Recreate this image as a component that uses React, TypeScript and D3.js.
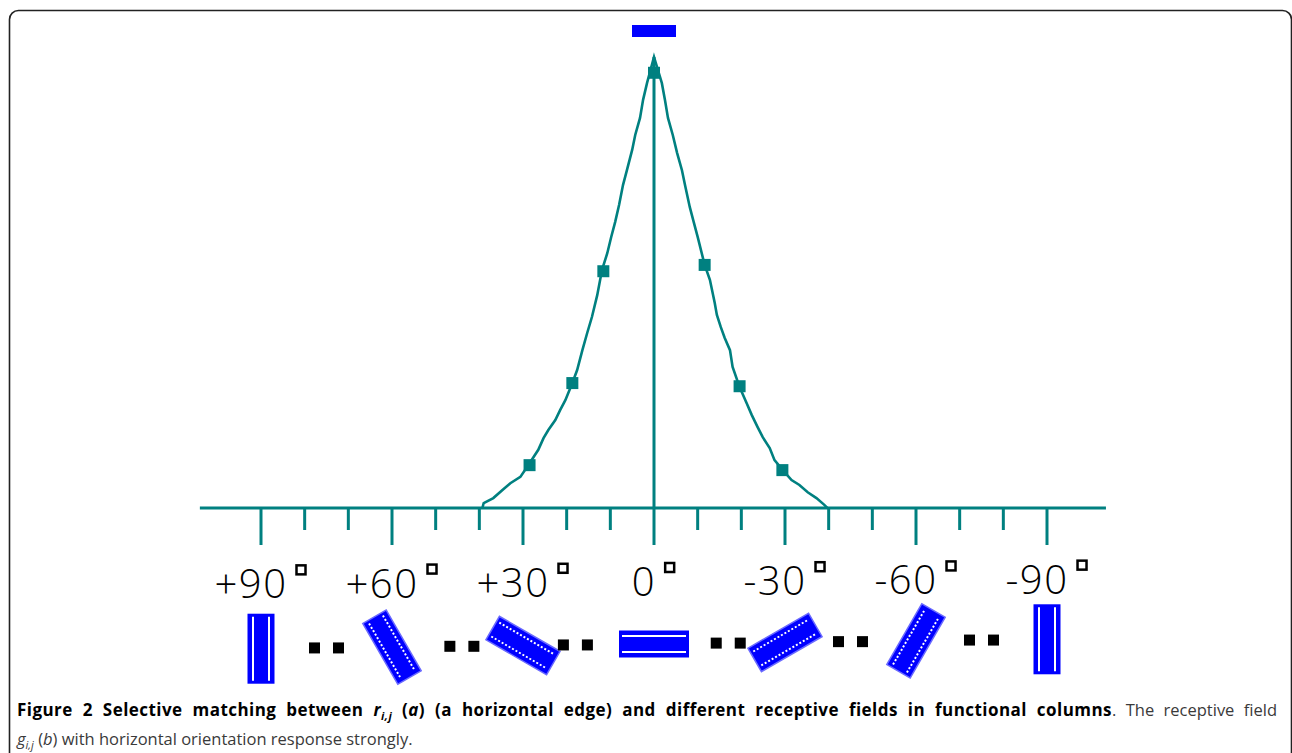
import React, { useRef, useEffect } from "react";
import * as d3 from "d3";

const width = 1292;
const height = 753;

// orientation tuning curve (degrees, relative response)
const curveAngles = [
  39.3, 39.0, 36.8, 34.7, 32.9, 30.6, 28.8, 26.5, 25.3, 24.2, 22.6, 21.5, 20.3,
  18.7, 17.6, 16.4, 15.3, 14.2, 13.0, 11.9, 10.7, 9.8, 8.9, 8.0, 7.1, 6.2, 5.0,
  4.3, 3.2, 2.5, 1.6, 0, -1.8, -2.5, -3.2, -4.3, -5.3, -6.4, -7.1, -8.2, -9.1,
  -10.0, -11.6, -12.8, -13.9, -14.4, -15.3, -16.2, -17.4, -18.0, -19.6, -21.2,
  -22.4, -23.7, -24.9, -26.5, -27.6, -29.5, -31.5, -33.3, -35.2, -37.2, -39.0,
  -39.7,
];
const curveValues = [
  0, 1.1, 2.2, 4.0, 5.5, 6.9, 9.5, 12.9, 15.5, 17.3, 19.5, 21.7, 23.9, 27.7,
  30.6, 35.0, 38.8, 42.4, 47.2, 52.8, 56.5, 60.1, 63.4, 67.2, 71.6, 74.9, 79.4,
  82.7, 86.5, 90.5, 94.2, 100, 94.2, 90.5, 86.5, 82.7, 78.7, 74.9, 71.6, 66.7,
  63.4, 60.1, 53.9, 50.6, 45.5, 42.8, 40.1, 37.7, 35.0, 31.3, 26.8, 23.3, 20.6,
  18.0, 15.7, 13.3, 10.6, 8.4, 6.2, 5.1, 3.5, 2.2, 0.7, 0,
];

// square markers on the curve
const markerAngles = [28.5, 18.7, 11.6, 0, -11.6, -19.6, -29.4];
const markerValues = [9.5, 27.7, 52.5, 96.5, 53.9, 27.0, 8.4];

const tickAngles = [
  90, 80, 70, 60, 50, 40, 30, 20, 10, 0, -10, -20, -30, -40, -50, -60, -70,
  -80, -90,
];
const labelAngles = [90, 60, 30, 0, -30, -60, -90];
const labelTexts = ["+90", "+60", "+30", "0", "-30", "-60", "-90"];

// receptive fields and the "· ·" gaps between them
const fieldAngles = [90, 60, 30, 0, -30, -60, -90];
const gapAngles = [75, 44, 18, -17, -45, -75];
const stimulusAngle = 0;

const teal = "#008080";
const blue = "#0000ff";

const line1 = [
  { t: "Figure 2 Selective matching between ", b: true },
  { t: "r", b: true, i: true },
  { t: "i,j", b: true, i: true, sub: true },
  { t: " (", b: true },
  { t: "a", b: true, i: true },
  { t: ") (a horizontal edge) and different receptive fields in functional columns", b: true },
  { t: ". The receptive field" },
];
const line2 = [
  { t: "g", i: true },
  { t: "i,j", i: true, sub: true },
  { t: " (" },
  { t: "b", i: true },
  { t: ") with horizontal orientation response strongly." },
];

const App = () => {
  const ref = useRef<SVGSVGElement>(null);

  useEffect(() => {
    const svg = d3.select(ref.current);
    svg.selectAll("*").remove();

    const x = d3.scaleLinear().domain([90, -90]).range([261, 1047]);
    const y = d3.scaleLinear().domain([0, 100]).range([508, 57]);
    // the lower row of the drawing slopes up slightly to the right
    const tilt = (px: number) => -(px - 654) * 0.012;

    svg
      .append("rect")
      .attr("x", 9.5)
      .attr("y", 10.5)
      .attr("width", 1282)
      .attr("height", 800)
      .attr("rx", 9)
      .attr("fill", "none")
      .attr("stroke", "#222")
      .attr("stroke-width", 1.6);

    // stimulus: a horizontal edge
    svg
      .append("rect")
      .attr("x", x(stimulusAngle) - 22)
      .attr("y", 25)
      .attr("width", 44)
      .attr("height", 12)
      .attr("fill", blue);

    const axis = svg.append("g").attr("stroke", teal).attr("stroke-width", 3);
    axis
      .append("line")
      .attr("x1", x(104))
      .attr("x2", x(-103.5))
      .attr("y1", y(0))
      .attr("y2", y(0));
    axis
      .append("line")
      .attr("x1", x(0))
      .attr("x2", x(0))
      .attr("y1", y(100))
      .attr("y2", y(0));
    axis
      .selectAll(".tick")
      .data(tickAngles)
      .enter()
      .append("line")
      .attr("x1", (d) => x(d))
      .attr("x2", (d) => x(d))
      .attr("y1", y(0))
      .attr("y2", (d) => (d % 30 === 0 ? 545 : 530));

    const pts = curveAngles.map((a, k) => [a, curveValues[k]] as [number, number]);
    const line = d3
      .line<[number, number]>()
      .x((d) => x(d[0]))
      .y((d) => y(d[1]));
    svg
      .append("path")
      .attr("d", line(pts))
      .attr("fill", "none")
      .attr("stroke", teal)
      .attr("stroke-width", 2.6)
      .attr("stroke-linejoin", "miter");

    svg
      .selectAll(".marker")
      .data(markerAngles)
      .enter()
      .append("rect")
      .attr("x", (d) => x(d) - 6)
      .attr("y", (d, k) => y(markerValues[k]) - 6)
      .attr("width", 12)
      .attr("height", 12)
      .attr("fill", teal);

    // tick labels with a square degree sign
    labelAngles.forEach((a, k) => {
      const cx = x(a);
      const base = 596 + tilt(cx) * 0.5;
      const t = svg
        .append("text")
        .attr("y", base)
        .attr("font-family", "'Open Sans', sans-serif")
        .attr("font-weight", 300)
        .attr("font-size", 40)
        .attr("letter-spacing", 1.5)
        .attr("fill", "#000")
        .text(labelTexts[k]);
      const w = (t.node() as SVGTextElement).getComputedTextLength();
      const start = cx - (w + 20) / 2;
      t.attr("x", start);
      svg
        .append("rect")
        .attr("x", start + w + 9)
        .attr("y", base - 33)
        .attr("width", 9)
        .attr("height", 9)
        .attr("fill", "none")
        .attr("stroke", "#000")
        .attr("stroke-width", 2.5);
    });

    fieldAngles.forEach((a) => {
      const cx = x(a);
      const g = svg
        .append("g")
        .attr("transform", `translate(${cx},${644 + tilt(cx)}) rotate(${a})`);
      const oblique = a % 90 !== 0;
      g.append("rect")
        .attr("x", -35)
        .attr("y", -13.5)
        .attr("width", 70)
        .attr("height", 27)
        .attr("fill", blue);
      [-8, 8].forEach((off) => {
        g.append("line")
          .attr("x1", -32)
          .attr("x2", 32)
          .attr("y1", off)
          .attr("y2", off)
          .attr("stroke", "#fff")
          .attr("stroke-width", 2)
          .attr("stroke-dasharray", oblique ? "2,2" : null);
      });
      if (oblique) {
        g.select("rect").attr("stroke", "#6a6aff").attr("stroke-width", 1.5);
      }
    });

    gapAngles.forEach((a) => {
      const cx = x(a);
      [-12, 12].forEach((off) => {
        svg
          .append("rect")
          .attr("x", cx + off - 5.5)
          .attr("y", 644 + tilt(cx) - 5.5)
          .attr("width", 11)
          .attr("height", 11)
          .attr("fill", "#000");
      });
    });

    // caption
    const writeLine = (parts: any[], yy: number, justify: boolean) => {
      const txt = svg
        .append("text")
        .attr("x", 17)
        .attr("y", yy)
        .attr("font-family", "'Open Sans', sans-serif")
        .attr("font-size", 16.5)
        .attr("fill", "#222");
      let shifted = false;
      parts.forEach((p) => {
        const ts = txt.append("tspan").text(p.t);
        if (p.b)
          ts.attr("font-weight", 700)
            .attr("fill", "#000")
            .attr("font-size", 17)
            .attr("letter-spacing", 0.45);
        else ts.attr("fill", "#3a3a3a");
        if (p.i) ts.attr("font-style", "italic");
        if (p.sub) {
          ts.attr("font-size", 11).attr("dy", 4);
          shifted = true;
        } else if (shifted) {
          ts.attr("dy", -4);
          shifted = false;
        }
      });
      if (justify) {
        const natural = (txt.node() as SVGTextElement).getComputedTextLength();
        const spaces = parts.map((p) => p.t).join("").split(" ").length - 1;
        txt.attr("word-spacing", Math.max(0, (1277 - 17 - natural) / spaces));
      }
    };
    writeLine(line1, 716, true);
    writeLine(line2, 745, false);
  }, []);

  return (
    <svg
      ref={ref}
      width={width}
      height={height}
      style={{ position: "absolute", left: 0, top: 0, background: "#fff" }}
    ></svg>
  );
};

export default App;
